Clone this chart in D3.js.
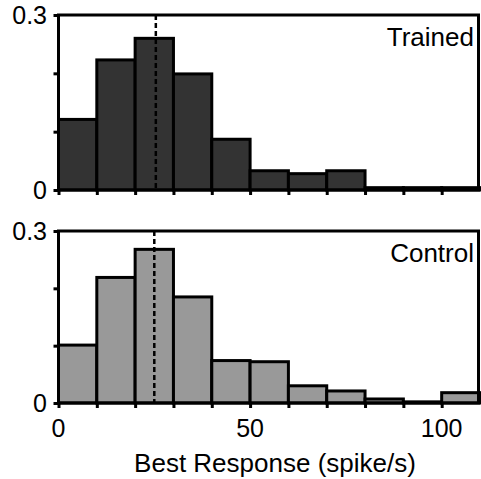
<!DOCTYPE html>
<html>
<head>
<meta charset="utf-8">
<script src="https://cdn.jsdelivr.net/npm/d3@7/dist/d3.min.js"></script>
<style>
  body { margin: 0; background: #fff; }
  svg { display: block; font-family: "Liberation Sans", Arial, sans-serif; }
</style>
</head>
<body>
<svg id="chart" width="481" height="479"></svg>
<script>
// bins of 10 spike/s, from 0 to 110
const binEdges = [0, 10, 20, 30, 40, 50, 60, 70, 80, 90, 100, 110];
const trainedValues = [0.121, 0.223, 0.260, 0.199, 0.087, 0.033, 0.028, 0.033, 0.004, 0.004, 0.004];
const controlValues = [0.101, 0.219, 0.268, 0.185, 0.074, 0.072, 0.030, 0.021, 0.007, 0.002, 0.018];
const trainedMedian = 25.4;
const controlMedian = 25;
const xTickLabels = [0, 50, 100];
const yTickLabels = [0, 0.3];

const svg = d3.select('#chart');
const x = d3.scaleLinear().domain([0, 110]).range([58.5, 480]);

const panels = [
  { name: 'Trained', values: trainedValues, median: trainedMedian, fill: '#333333', top: 15, bottom: 190 },
  { name: 'Control', values: controlValues, median: controlMedian, fill: '#999999', top: 231, bottom: 403 }
];

panels.forEach(p => {
  const y = d3.scaleLinear().domain([0, 0.3]).range([p.bottom, p.top]);
  const g = svg.append('g');
  const bins = p.values.map((v, i) => ({ x0: binEdges[i], x1: binEdges[i + 1], v }));

  g.selectAll('rect.bar').data(bins).join('rect')
    .attr('class', 'bar')
    .attr('x', d => x(d.x0))
    .attr('y', d => y(d.v))
    .attr('width', d => x(d.x1) - x(d.x0))
    .attr('height', d => y(0) - y(d.v))
    .attr('fill', p.fill)
    .attr('stroke', '#000')
    .attr('stroke-width', 3);

  // median marker
  g.append('line')
    .attr('x1', x(p.median)).attr('x2', x(p.median))
    .attr('y1', y(0.3)).attr('y2', y(0))
    .attr('stroke', '#000')
    .attr('stroke-width', 2.5)
    .attr('stroke-dasharray', '5,3');

  // frame
  g.append('rect')
    .attr('x', x(0)).attr('y', y(0.3))
    .attr('width', x(110) - x(0) - 1.5).attr('height', y(0) - y(0.3))
    .attr('fill', 'none')
    .attr('stroke', '#000')
    .attr('stroke-width', 3);

  const xAxis = g.append('g')
    .attr('transform', `translate(0,${p.bottom})`)
    .call(d3.axisBottom(x).tickValues(d3.range(0, 110, 10)).tickSize(5).tickFormat(''));
  const yAxis = g.append('g')
    .attr('transform', `translate(${x(0)},0)`)
    .call(d3.axisLeft(y).tickValues([0, 0.1, 0.2, 0.3]).tickSize(5).tickFormat(''));
  [xAxis, yAxis].forEach(a => {
    a.select('.domain').remove();
    a.selectAll('line').attr('stroke', '#000').attr('stroke-width', 3);
  });

  g.selectAll('text.ylab').data(yTickLabels).join('text')
    .attr('class', 'ylab')
    .attr('x', 47)
    .attr('y', d => y(d))
    .attr('dy', '0.36em')
    .attr('text-anchor', 'end')
    .attr('font-size', 25)
    .text(d => d === 0 ? '0' : d3.format('.1f')(d));

  g.append('text')
    .attr('x', 474)
    .attr('y', p.top + 31)
    .attr('text-anchor', 'end')
    .attr('font-size', 26)
    .text(p.name);
});

svg.selectAll('text.xlab').data(xTickLabels).join('text')
  .attr('class', 'xlab')
  .attr('x', d => x(d))
  .attr('y', 437)
  .attr('text-anchor', 'middle')
  .attr('font-size', 25)
  .text(d => d);

svg.append('text')
  .attr('x', 275)
  .attr('y', 472)
  .attr('text-anchor', 'middle')
  .attr('font-size', 26)
  .text('Best Response (spike/s)');
</script>
</body>
</html>
